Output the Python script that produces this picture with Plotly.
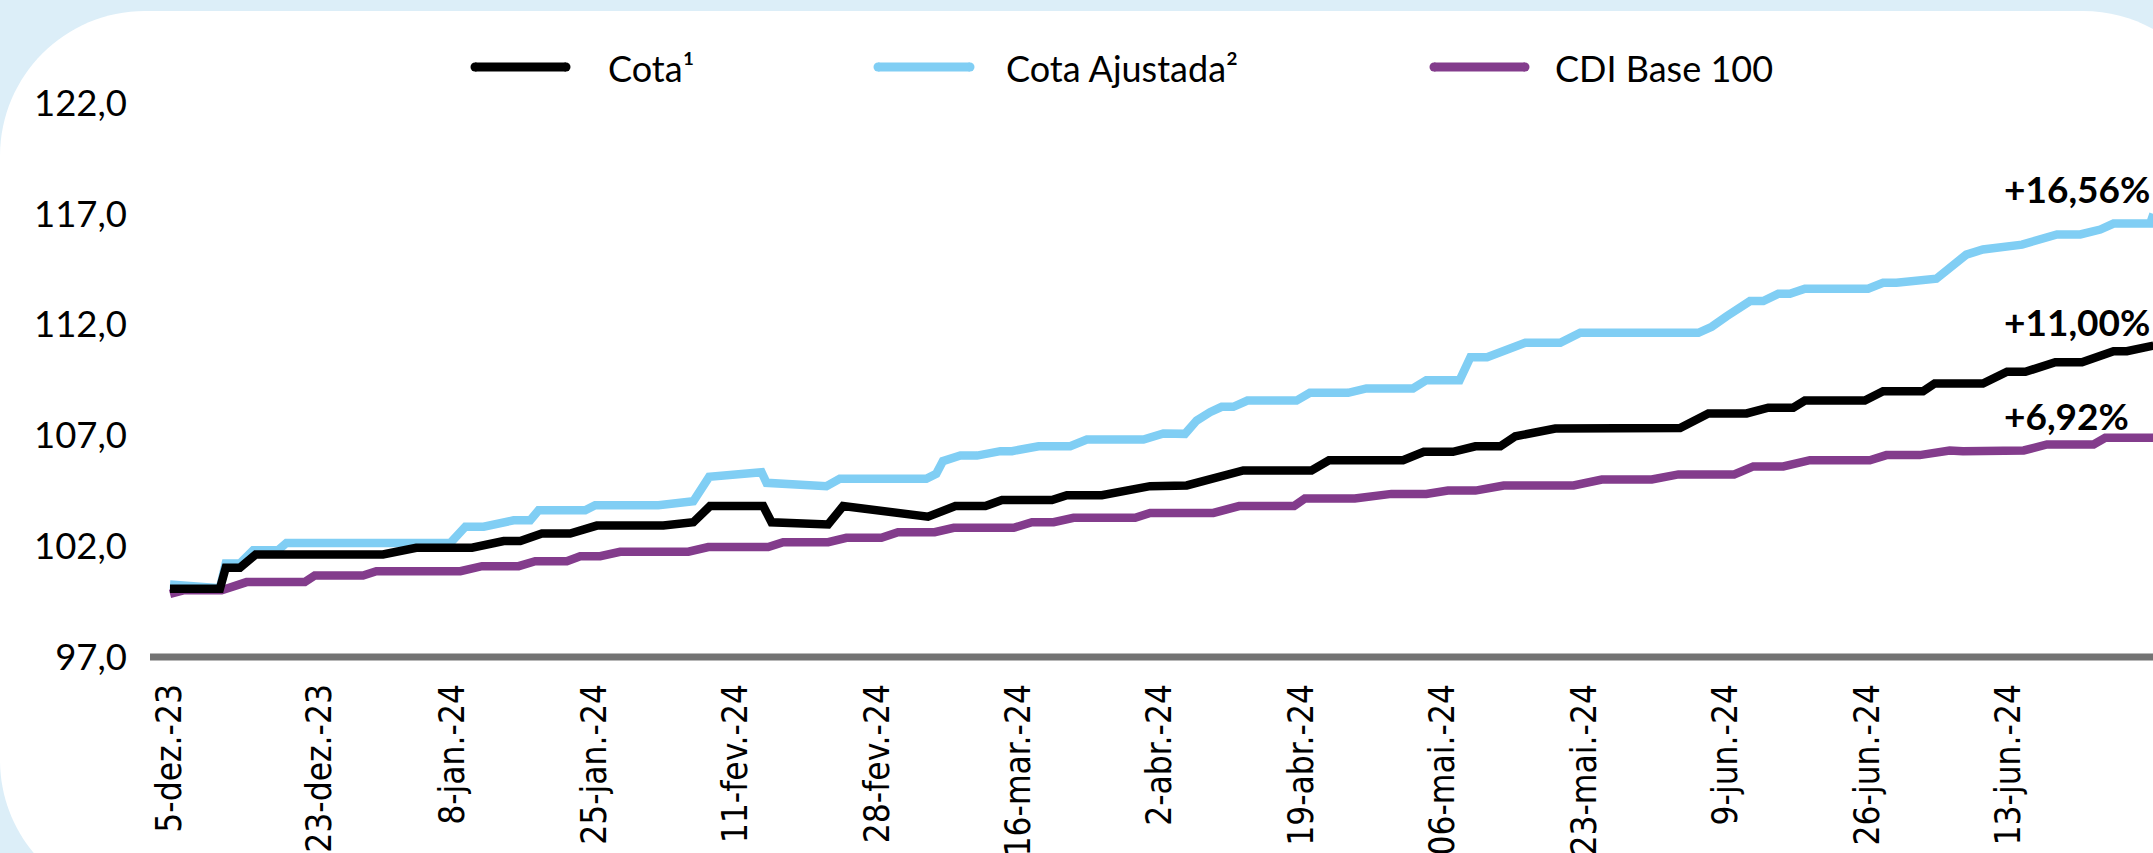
import pandas as pd
import plotly.graph_objects as go

# ---------------- data ----------------
base_date = "2023-12-05"

cota_days = [0, 6.0, 6.7, 8.4, 10.3, 25.6, 29.6, 36.3, 40.1, 42.1, 44.7, 48.1, 51.3, 59.3,
             62.9, 64.9, 71.3, 72.3, 79.1, 80.9, 91.1, 94.4, 98.0, 100.0, 106.0, 107.8,
             112.0, 117.8, 122.2, 125.8, 129.0, 137.2, 139.3, 148.2, 150.7, 154.2, 156.9,
             159.9, 161.7, 166.5, 181.5, 184.9, 189.5, 192.1, 195.1, 196.5, 203.7, 205.9,
             210.7, 212.1, 217.9, 220.8, 223.0, 226.6, 229.8, 233.6, 235.2, 238.4]
cota_vals = [100.08, 100.08, 101.03, 101.03, 101.63, 101.63, 101.93, 101.93, 102.23, 102.23,
             102.57, 102.57, 102.93, 102.93, 103.08, 103.81, 103.81, 103.08, 102.98, 103.81,
             103.33, 103.81, 103.81, 104.08, 104.08, 104.30, 104.30, 104.71, 104.74, 105.09,
             105.42, 105.42, 105.88, 105.88, 106.26, 106.26, 106.51, 106.51, 106.96, 107.31,
             107.33, 107.99, 107.99, 108.25, 108.25, 108.57, 108.57, 108.99, 108.99, 109.34,
             109.34, 109.87, 109.87, 110.30, 110.30, 110.80, 110.80, 111.05]

ajust_days = [0, 6.0, 6.7, 8.4, 10.0, 13.0, 14.0, 33.7, 35.5, 37.7, 41.3, 43.3, 44.3, 49.9,
              51.1, 58.7, 62.9, 64.8, 71.1, 71.7, 78.9, 80.5, 90.9, 92.1, 92.9, 95.0, 97.0,
              99.8, 101.2, 104.4, 108.2, 110.2, 117.0, 119.4, 122.0, 123.4, 125.0, 126.4,
              127.8, 129.5, 135.4, 137.0, 141.6, 143.8, 149.4, 151.0, 155.0, 156.3, 158.3,
              162.9, 167.1, 169.5, 183.7, 185.3, 187.1, 189.9, 191.5, 193.3, 194.7, 196.5,
              204.1, 205.9, 207.5, 210.7, 212.3, 215.9, 217.9, 222.6, 226.8, 229.6, 232.0,
              233.6, 238.0, 238.4]
ajust_vals = [100.27, 100.10, 101.22, 101.22, 101.82, 101.82, 102.15, 102.15, 102.88, 102.88,
              103.17, 103.17, 103.62, 103.62, 103.85, 103.85, 104.03, 105.13, 105.34, 104.86,
              104.71, 105.04, 105.04, 105.27, 105.84, 106.09, 106.09, 106.29, 106.29, 106.51,
              106.51, 106.81, 106.81, 107.09, 107.07, 107.67, 108.05, 108.29, 108.29, 108.57,
              108.57, 108.92, 108.92, 109.12, 109.12, 109.49, 109.49, 110.53, 110.53, 111.18,
              111.18, 111.63, 111.63, 111.90, 112.38, 113.06, 113.06, 113.39, 113.39, 113.62,
              113.62, 113.89, 113.89, 114.07, 114.07, 115.16, 115.39, 115.61, 116.07, 116.07,
              116.29, 116.56, 116.56, 117.0]

cdi_days = [0, 1.6, 6.2, 9.2, 16.2, 17.4, 23.2, 24.8, 34.9, 37.5, 41.9, 43.9, 47.7, 49.3,
            51.7, 54.1, 62.3, 64.7, 71.9, 73.7, 79.1, 81.3, 85.5, 87.5, 91.9, 94.2, 101.4,
            103.6, 106.2, 108.6, 116.0, 117.8, 125.4, 128.5, 135.1, 136.4, 142.4, 146.8,
            151.0, 153.6, 156.9, 160.3, 168.7, 172.1, 178.1, 181.3, 188.0, 190.3, 193.9,
            197.1, 204.3, 206.3, 210.3, 213.9, 215.5, 222.8, 225.6, 231.2, 232.6, 238.4]
cdi_vals = [99.85, 100.01, 100.01, 100.38, 100.38, 100.68, 100.68, 100.87, 100.87, 101.10,
            101.10, 101.32, 101.32, 101.55, 101.55, 101.75, 101.75, 101.96, 101.96, 102.18,
            102.18, 102.38, 102.38, 102.63, 102.63, 102.83, 102.83, 103.08, 103.08, 103.28,
            103.28, 103.50, 103.50, 103.81, 103.81, 104.15, 104.15, 104.36, 104.36, 104.51,
            104.51, 104.74, 104.74, 105.01, 105.01, 105.24, 105.24, 105.60, 105.60, 105.88,
            105.88, 106.11, 106.11, 106.32, 106.29, 106.32, 106.59, 106.59, 106.89, 106.89]

tick_dates = ["2023-12-05", "2023-12-23", "2024-01-08", "2024-01-25", "2024-02-11",
              "2024-02-28", "2024-03-16", "2024-04-02", "2024-04-19", "2024-05-06",
              "2024-05-23", "2024-06-09", "2024-06-26", "2024-07-13", "2024-07-30"]
tick_labels = ["5-dez.-23", "23-dez.-23", "8-jan.-24", "25-jan.-24", "11-fev.-24",
               "28-fev.-24", "16-mar.-24", "2-abr.-24", "19-abr.-24", "06-mai.-24",
               "23-mai.-24", "9-jun.-24", "26-jun.-24", "13-jun.-24", "30-jul.-24"]

y_ticks = [97, 102, 107, 112, 117, 122]

series_names = ["Cota¹", "Cota Ajustada²", "CDI Base 100"]
end_labels = ["+11,00%", "+16,56%", "+6,92%"]
end_label_y = [112.12, 118.16, 107.88]

# ---------------- styling ----------------
C_BLACK = "#000000"
C_CYAN = "#80CEF4"
C_PURPLE = "#833C8C"
BG_BLUE = "#DCEEF8"
AXIS_GRAY = "#737373"
LABEL_FONT = "Lato, 'Open Sans', sans-serif"
XTICK_FONT = "'DejaVu Sans Condensed', 'DejaVu Sans', sans-serif"

W, H = 2153, 853
ML, MR, MT, MB = 150, 0, 103, 196
PW, PH = W - ML - MR, H - MT - MB


def px2x(px):
    return (px - ML) / PW


def px2y(py):
    return (H - MB - py) / PH


base = pd.Timestamp(base_date)


def to_dates(days):
    return [base + pd.Timedelta(days=d) for d in days]


fig = go.Figure()
fig.add_trace(go.Scatter(x=to_dates(ajust_days), y=ajust_vals, mode="lines",
                         name=series_names[1], line=dict(color=C_CYAN, width=8.5)))
fig.add_trace(go.Scatter(x=to_dates(cdi_days), y=cdi_vals, mode="lines",
                         name=series_names[2], line=dict(color=C_PURPLE, width=8.5)))
fig.add_trace(go.Scatter(x=to_dates(cota_days), y=cota_vals, mode="lines",
                         name=series_names[0], line=dict(color=C_BLACK, width=8.5)))

# x range: axis starts a little before the first date, page edge cuts at ~30-jul
px_per_day = 8.32
first_tick_px = 170
x_start = base + pd.Timedelta(days=(ML - first_tick_px) / px_per_day)
x_end = base + pd.Timedelta(days=(W - MR - first_tick_px) / px_per_day)

shapes = []

# white rounded panel on light blue page
x0, y0, x1, y1, r = 0, 11, 2228, 905, 145
k = 0.5523 * r


def P(px, py):
    return f"{px2x(px):.6f},{px2y(py):.6f}"


path = (f"M {P(x0 + r, y0)} L {P(x1 - r, y0)} "
        f"C {P(x1 - r + k, y0)} {P(x1, y0 + r - k)} {P(x1, y0 + r)} "
        f"L {P(x1, y1 - r)} "
        f"C {P(x1, y1 - r + k)} {P(x1 - r + k, y1)} {P(x1 - r, y1)} "
        f"L {P(x0 + r, y1)} "
        f"C {P(x0 + r - k, y1)} {P(x0, y1 - r + k)} {P(x0, y1 - r)} "
        f"L {P(x0, y0 + r)} "
        f"C {P(x0, y0 + r - k)} {P(x0 + r - k, y0)} {P(x0 + r, y0)} Z")
shapes.append(dict(type="path", path=path, xref="paper", yref="paper",
                   fillcolor="white", line=dict(width=0), layer="below"))

# thick gray baseline at 97,0
shapes.append(dict(type="line", xref="paper", yref="paper", x0=0, x1=1.01, y0=0, y1=0,
                   line=dict(color=AXIS_GRAY, width=7), layer="above"))

# custom legend
legend_items = [(series_names[0], C_BLACK, 475, 566, 606),
                (series_names[1], C_CYAN, 878, 970, 1004),
                (series_names[2], C_PURPLE, 1434, 1525, 1553)]
legend_y = 67
annotations = []
for name, col, lx0, lx1, tx in legend_items:
    shapes.append(dict(type="line", xref="paper", yref="paper",
                       x0=px2x(lx0), x1=px2x(lx1), y0=px2y(legend_y), y1=px2y(legend_y),
                       line=dict(color=col, width=9)))
    for cx in (lx0, lx1):
        shapes.append(dict(type="circle", xref="paper", yref="paper",
                           x0=px2x(cx - 4.5), x1=px2x(cx + 4.5),
                           y0=px2y(legend_y + 4.5), y1=px2y(legend_y - 4.5),
                           fillcolor=col, line=dict(width=0)))
    annotations.append(dict(text=name, xref="paper", yref="paper", x=px2x(tx),
                            y=px2y(legend_y + 1), xanchor="left", yanchor="middle",
                            showarrow=False, font=dict(family=LABEL_FONT, size=36,
                                                       color="#000000")))

# end-of-series labels (left-aligned in a column near the right edge)
for txt, yv in zip(end_labels, end_label_y):
    annotations.append(dict(text=f"<b>{txt}</b>", xref="paper", yref="y", x=px2x(2002),
                            y=yv, xanchor="left", yanchor="middle", showarrow=False,
                            font=dict(family=LABEL_FONT, size=37, color="#000000")))

fig.update_layout(
    width=W, height=H,
    margin=dict(l=ML, r=MR, t=MT, b=MB, pad=0),
    paper_bgcolor=BG_BLUE,
    plot_bgcolor="rgba(0,0,0,0)",
    showlegend=False,
    separators=",.",
    shapes=shapes,
    annotations=annotations,
    xaxis=dict(type="date", range=[x_start, x_end], showgrid=False, zeroline=False,
               showline=False, ticks="", tickmode="array", tickvals=tick_dates,
               ticktext=tick_labels, tickangle=-90,
               tickfont=dict(family=XTICK_FONT, size=35, color="#000000"),
               ticklabelstandoff=19, automargin=False),
    yaxis=dict(range=[97, 122], showgrid=False, zeroline=False, showline=False,
               ticks="", tickmode="array", tickvals=y_ticks, tickformat=".1f",
               tickfont=dict(family=LABEL_FONT, size=36.5, color="#000000"),
               ticklabelstandoff=22, automargin=False),
)

fig.write_html(
    "out.html",
    config={"displayModeBar": False},
    post_script="document.body.style.margin='0px';document.body.style.overflow='hidden';",
)
